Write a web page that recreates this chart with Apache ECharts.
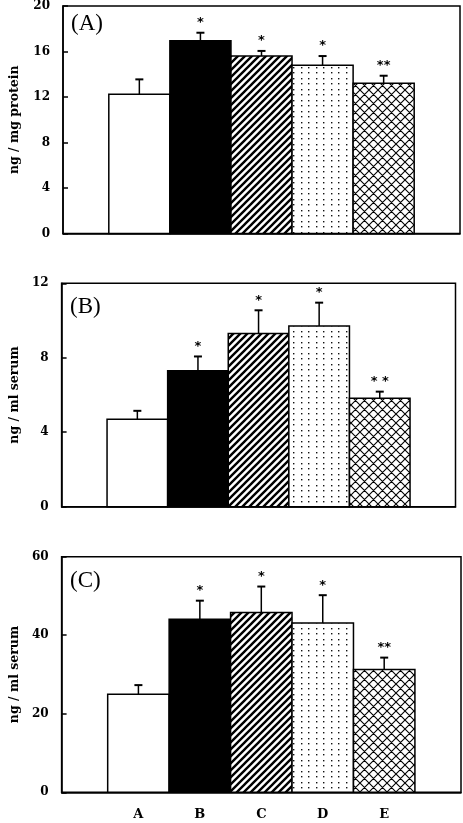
<!DOCTYPE html>
<html>
<head>
<meta charset="utf-8">
<script src="https://cdn.jsdelivr.net/npm/echarts@6/dist/echarts.min.js"></script>
<style>
html,body{margin:0;padding:0;background:#fff;}
#c{width:463px;height:823px;}
</style>
</head>
<body>
<div id="c"></div>
<script>
// ---- data ----
const categories = ['A', 'B', 'C', 'D', 'E'];

const meanA = [12.25, 16.95, 15.6, 14.8, 13.2];
const errA  = [1.3, 0.7, 0.45, 0.8, 0.67];
const starsA = ['', '*', '*', '*', '**'];

const meanB = [4.7, 7.3, 9.3, 9.7, 5.82];
const errB  = [0.45, 0.77, 1.25, 1.26, 0.36];
const starsB = ['', '*', '*', '*', '* *'];

const meanC = [25.0, 44.1, 45.8, 43.1, 31.3];
const errC  = [2.3, 4.7, 6.6, 7.1, 3.0];
const starsC = ['', '*', '*', '*', '**'];

const panelLabels = ['(A)', '(B)', '(C)'];
const yNames = ['ng / mg protein', 'ng / ml serum', 'ng / ml serum'];
const yTicksA = [0, 4, 8, 12, 16, 20];
const yTicksB = [0, 4, 8, 12];
const yTicksC = [0, 20, 40, 60];

// ---- patterns ----
function makeCanvas(w, h, draw) {
  const c = document.createElement('canvas');
  c.width = w; c.height = h;
  const ctx = c.getContext('2d');
  ctx.fillStyle = '#fff';
  ctx.fillRect(0, 0, w, h);
  draw(ctx, w, h);
  return c;
}
const diagCanvas = makeCanvas(7, 7, (ctx, w) => {
  ctx.strokeStyle = '#000';
  ctx.lineWidth = 2.4;
  ctx.beginPath();
  [0, w, 2 * w].forEach(k => { ctx.moveTo(-2, k + 2); ctx.lineTo(k + 2, -2); });
  ctx.stroke();
});
const dotCanvas = makeCanvas(15, 11, (ctx) => {
  ctx.fillStyle = '#111';
  [[1, 1], [8, 1], [1, 6], [8, 6]].forEach(p => ctx.fillRect(p[0], p[1], 1.4, 1.4));
});
const crossCanvas = makeCanvas(9, 9, (ctx, w) => {
  ctx.strokeStyle = '#000';
  ctx.lineWidth = 1.1;
  ctx.beginPath();
  [0, w, 2 * w].forEach(k => { ctx.moveTo(-2, k + 2); ctx.lineTo(k + 2, -2); });
  [-w, 0, w].forEach(k => { ctx.moveTo(k - 2, -2); ctx.lineTo(k + w + 2, w + 2); });
  ctx.stroke();
});
const fills = [
  '#fff',
  '#000',
  { type: 'pattern', image: diagCanvas, repeat: 'repeat' },
  { type: 'pattern', image: dotCanvas, repeat: 'repeat' },
  { type: 'pattern', image: crossCanvas, repeat: 'repeat' }
];

function makeRender(stars) {
  return function (params, api) {
    const i = api.value(0), v = api.value(1), e = api.value(2);
    const p0 = api.coord([i - 0.5, v]);
    const p1 = api.coord([i + 0.5, 0]);
    const top = api.coord([i, v + e]);
    const xc = (p0[0] + p1[0]) / 2;
    return {
      type: 'group',
      children: [
        { type: 'rect', shape: { x: p0[0], y: p0[1], width: p1[0] - p0[0], height: p1[1] - p0[1] },
          style: { fill: fills[i], stroke: '#000', lineWidth: 1.5 } },
        { type: 'line', shape: { x1: xc, y1: p0[1], x2: xc, y2: top[1] },
          style: { stroke: '#000', lineWidth: 1.5 } },
        { type: 'line', shape: { x1: xc - 4, y1: top[1], x2: xc + 4, y2: top[1] },
          style: { stroke: '#000', lineWidth: 2 } },
        { type: 'text', style: { text: stars[params.dataIndex], x: xc, y: top[1] - 10,
          textAlign: 'center', textVerticalAlign: 'middle',
          font: 'bold 13px "DejaVu Sans"', fill: '#000' } }
      ]
    };
  };
}

const grids = [
  { left: 60.5, top: 5, right: 3, bottom: 589.5 },
  { left: 57, top: 283.3, right: 7.5, bottom: 316.3 },
  { left: 54, top: 556.7, right: 2, bottom: 30.7 }
].map(g => Object.assign(g, { show: true, borderColor: '#000', borderWidth: 1.5, containLabel: false }));

const yTicks = [yTicksA, yTicksB, yTicksC];
const nameGaps = [42, 25, 37];
const tickFont = { fontFamily: 'DejaVu Serif', fontWeight: 'bold', fontSize: 12, color: '#000' };

const xAxes = [0, 1, 2].map(k => ({
  type: 'value', gridIndex: k, min: -1.25, max: 5.25,
  axisLine: { show: true, onZero: false, lineStyle: { color: '#000', width: 1.5 } },
  axisTick: { show: false },
  splitLine: { show: false },
  axisLabel: k === 2 ? Object.assign({
    show: true, customValues: [0, 1, 2, 3, 4], margin: 16,
    fontSize: 13, formatter: v => categories[Math.round(v)] || ''
  }, { fontFamily: 'DejaVu Serif', fontWeight: 'bold', color: '#000' }) : { show: false }
}));

const yAxes = [0, 1, 2].map(k => {
  const t = yTicks[k];
  return {
    type: 'value', gridIndex: k, min: t[0], max: t[t.length - 1], interval: t[1] - t[0],
    name: yNames[k], nameLocation: 'middle', nameGap: nameGaps[k],
    nameTextStyle: { fontFamily: 'DejaVu Serif', fontWeight: 'bold', fontSize: 12.5, color: '#000' },
    axisLine: { show: true, onZero: false, lineStyle: { color: '#000', width: 1.5 } },
    axisTick: { show: true, inside: true, length: 5, lineStyle: { color: '#000', width: 1.5 } },
    splitLine: { show: false },
    axisLabel: Object.assign({ margin: 13 }, tickFont)
  };
});

function toData(means, errs) {
  return means.map((m, i) => [i, m, errs[i]]);
}

const series = [
  [meanA, errA, starsA],
  [meanB, errB, starsB],
  [meanC, errC, starsC]
].map((d, k) => ({
  type: 'custom', xAxisIndex: k, yAxisIndex: k,
  renderItem: makeRender(d[2]),
  data: toData(d[0], d[1]),
  encode: { x: 0, y: [1, 2] },
  clip: false,
  silent: true
}));

const labelY = [12, 295, 569];
const labelX = [71, 70, 70];
const graphic = panelLabels.map((t, k) => ({
  type: 'text', left: labelX[k], top: labelY[k],
  style: { text: t, font: '23px "Liberation Serif"', fill: '#000' }
}));

const chart = echarts.init(document.getElementById('c'), null, { renderer: 'canvas' });
chart.setOption({
  backgroundColor: '#fff',
  animation: false,
  grid: grids,
  xAxis: xAxes,
  yAxis: yAxes,
  series: series,
  graphic: graphic
});
</script>
</body>
</html>
